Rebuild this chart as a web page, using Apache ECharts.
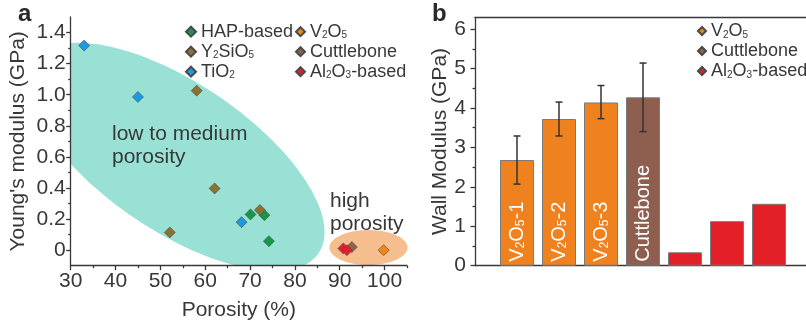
<!DOCTYPE html>
<html>
<head>
<meta charset="utf-8">
<script src="https://cdn.jsdelivr.net/npm/echarts@6.0.0/dist/echarts.min.js"></script>
<style>
  html, body { margin: 0; padding: 0; background: #fff; }
  #chart { width: 806px; height: 324px; }
</style>
</head>
<body>
<div id="chart"></div>
<script>
const FONT = '"Liberation Sans", Arial, Helvetica, sans-serif';
const INK = '#383838';

// panel a: porosity (%) vs Young's modulus (GPa)
const HAP_X = [70.1, 73.2, 74.2];
const HAP_Y = [0.23, 0.225, 0.058];
const YSIO_X = [58.1, 62.1, 52.1, 72.2];
const YSIO_Y = [1.026, 0.397, 0.114, 0.258];
const TIO2_X = [33.0, 45.0, 68.1];
const TIO2_Y = [1.316, 0.986, 0.18];
const V2O5_X = [99.8];
const V2O5_Y = [0];
const CUTTLE_X = [92.7];
const CUTTLE_Y = [0.02];
const AL2O3_X = [90.8, 91.6];
const AL2O3_Y = [0.011, 0];

const X_TICKS = [30, 40, 50, 60, 70, 80, 90, 100];
const X_MINOR = [35, 45, 55, 65, 75, 85, 95, 105];
const Y_TICKS = [0, 0.2, 0.4, 0.6, 0.8, 1.0, 1.2, 1.4];
const Y_MINOR = [0.1, 0.3, 0.5, 0.7, 0.9, 1.1, 1.3];

// panel b: wall modulus per sample
const BAR_POS = [1, 2, 3, 4, 5, 6, 7];
const BAR_GROUP = ['V2O5', 'V2O5', 'V2O5', 'Cuttlebone', 'Al2O3-based', 'Al2O3-based', 'Al2O3-based'];
const BAR_TEXT = ['{n|V}{s|2}{n|O}{s|5}{n|-1}', '{n|V}{s|2}{n|O}{s|5}{n|-2}', '{n|V}{s|2}{n|O}{s|5}{n|-3}', 'Cuttlebone', '', '', ''];
const WALL = [2.68, 3.72, 4.14, 4.27, 0.34, 1.13, 1.57];
const ERR_LO = [2.07, 3.29, 3.73, 3.40];
const ERR_HI = [3.29, 4.15, 4.57, 5.14];
const B_TICKS = [0, 1, 2, 3, 4, 5, 6];
const B_MINOR = [0.5, 1.5, 2.5, 3.5, 4.5, 5.5];

// shaded porosity regions (center in data units, radii in px)
const ELLIPSES = [
  { center: [53.5, 0.60], rx: 172, ry: 74, angle: 34, color: '#98e1d4' },
  { center: [96.4, 0.017], rx: 39, ry: 17.5, angle: 0, color: '#f6bd8f' },
];

const COLORS = {
  'HAP-based': '#14994a', 'Y2SiO5': '#8a7233', 'TiO2': '#1a9be0',
  'V2O5': '#f08618', 'Cuttlebone': '#8f6250', 'Al2O3-based': '#e3202a',
};
const BAR_COLORS = { 'V2O5': '#ef821e', 'Cuttlebone': '#8e5e4e', 'Al2O3-based': '#e21e26' };
const RICH_NAME = {
  'Y2SiO5': 'Y{s|2}SiO{s|5}', 'TiO2': 'TiO{s|2}',
  'V2O5': 'V{s|2}O{s|5}', 'Al2O3-based': 'Al{s|2}O{s|3}-based',
};

const zip = (xs, ys) => xs.map((x, i) => [x, ys[i]]);
const SCATTER = [
  ['HAP-based', zip(HAP_X, HAP_Y)],
  ['Y2SiO5', zip(YSIO_X, YSIO_Y)],
  ['TiO2', zip(TIO2_X, TIO2_Y)],
  ['V2O5', zip(V2O5_X, V2O5_Y)],
  ['Cuttlebone', zip(CUTTLE_X, CUTTLE_Y)],
  ['Al2O3-based', zip(AL2O3_X, AL2O3_Y)],
];

const lineStyle = { color: INK, width: 1.3 };
const labelStyle = { color: INK, fontSize: 21, fontFamily: FONT };
const nameStyle = { color: INK, fontSize: 21, fontFamily: FONT };

function axis(grid, min, max, ticks, extra) {
  return Object.assign({
    type: 'value', gridIndex: grid, min, max,
    axisLine: { show: true, onZero: false, lineStyle },
    axisTick: { show: true, customValues: ticks, length: 4.5, lineStyle },
    axisLabel: { show: true, customValues: ticks, ...labelStyle },
    splitLine: { show: false },
  }, extra);
}
function minorAxis(grid, min, max, ticks, position) {
  return {
    type: 'value', gridIndex: grid, min, max, position,
    axisLine: { show: false, onZero: false },
    axisTick: { show: true, customValues: ticks, length: 2.5, lineStyle },
    axisLabel: { show: false },
    splitLine: { show: false },
  };
}

const legendText = {
  color: INK, fontSize: 18, lineHeight: 18, fontFamily: FONT,
  rich: { s: { fontSize: 10, lineHeight: 6, verticalAlign: 'bottom', color: INK, fontFamily: FONT } },
};
const legendBase = {
  orient: 'vertical', icon: 'diamond', itemGap: 2, padding: 0, selectedMode: false,
  textStyle: legendText, formatter: n => RICH_NAME[n] || n,
};

const chart = echarts.init(document.getElementById('chart'));
chart.setOption({
  animation: false,
  textStyle: { fontFamily: FONT },
  grid: [
    { left: 70.7, top: 17, right: 399, bottom: 58.3, outerBoundsMode: 'none' },
    { left: 475, top: 17.3, right: -5, bottom: 58.3, outerBoundsMode: 'none' },
  ],
  xAxis: [
    axis(0, 30, 105, X_TICKS, {
      position: 'bottom', axisLabel: { customValues: X_TICKS, margin: 5, ...labelStyle },
      name: 'Porosity (%)', nameLocation: 'middle', nameGap: 34, nameTextStyle: nameStyle,
    }),
    minorAxis(0, 30, 105, X_MINOR, 'bottom'),
    {
      type: 'value', gridIndex: 1, min: 0, max: 8, position: 'bottom',
      axisLine: { show: true, onZero: false, lineStyle },
      axisTick: { show: false }, axisLabel: { show: false }, splitLine: { show: false },
    },
    {
      type: 'value', gridIndex: 1, min: 0, max: 8, position: 'top',
      axisLine: { show: true, onZero: false, lineStyle },
      axisTick: { show: false }, axisLabel: { show: false }, splitLine: { show: false },
    },
  ],
  yAxis: [
    axis(0, -0.1, 1.5, Y_TICKS, {
      position: 'left',
      axisLabel: {
        customValues: Y_TICKS, margin: 5, ...labelStyle,
        formatter: v => (v === 0 ? '0' : v.toFixed(1)),
      },
      name: "Young's modulus (GPa)", nameLocation: 'middle', nameGap: 42, nameTextStyle: nameStyle,
    }),
    minorAxis(0, -0.1, 1.5, Y_MINOR, 'left'),
    axis(1, 0, 6.3, B_TICKS, {
      position: 'left',
      axisLabel: { customValues: B_TICKS, margin: 9, ...labelStyle },
      name: 'Wall Modulus (GPa)', nameLocation: 'middle', nameGap: 21.5, nameTextStyle: nameStyle,
    }),
    minorAxis(1, 0, 6.3, B_MINOR, 'left'),
  ],
  legend: [
    { ...legendBase, data: ['HAP-based', 'Y2SiO5', 'TiO2'], left: 185, top: 22.7, itemWidth: 10, itemHeight: 10 },
    { ...legendBase, data: ['V2O5', 'Cuttlebone', 'Al2O3-based'], left: 295, top: 22.7, itemWidth: 9, itemHeight: 9 },
    { ...legendBase, data: ['V2O5', 'Cuttlebone', 'Al2O3-based'], left: 697, top: 22, itemWidth: 8, itemHeight: 8 },
  ],
  graphic: [
    { type: 'text', z: 100, left: 18, top: 2, style: { text: 'a', font: `bold 24px ${FONT}`, fill: '#2a2a2a' } },
    { type: 'text', z: 100, left: 432, top: 2, style: { text: 'b', font: `bold 24px ${FONT}`, fill: '#2a2a2a' } },
    { type: 'text', z: 100, left: 112, top: 123, style: { text: 'low to medium\nporosity', fontSize: 21, lineHeight: 23, fontFamily: FONT, fill: INK } },
    { type: 'text', z: 100, left: 330, top: 189.5, style: { text: 'high\nporosity', fontSize: 21, lineHeight: 23, fontFamily: FONT, fill: INK } },
  ],
  series: [
    {
      type: 'custom', name: 'regions', xAxisIndex: 0, yAxisIndex: 0, clip: true, silent: true, z: 0,
      data: ELLIPSES.map(e => e.center),
      renderItem: (params, api) => {
        const e = ELLIPSES[params.dataIndex];
        const c = api.coord([api.value(0), api.value(1)]);
        const th = e.angle * Math.PI / 180;
        const pts = [];
        for (let k = 0; k < 160; k++) {
          const t = k / 160 * 2 * Math.PI;
          pts.push([
            c[0] + e.rx * Math.cos(t) * Math.cos(th) - e.ry * Math.sin(t) * Math.sin(th),
            c[1] + e.rx * Math.cos(t) * Math.sin(th) + e.ry * Math.sin(t) * Math.cos(th),
          ]);
        }
        return { type: 'polygon', shape: { points: pts }, style: { fill: e.color } };
      },
    },
    ...SCATTER.map(([name, data]) => ({
      type: 'scatter', name, xAxisIndex: 0, yAxisIndex: 0, data, z: 3,
      symbol: 'diamond', symbolSize: 11,
      itemStyle: { color: COLORS[name], borderColor: '#4a4a4a', borderWidth: 0.6, opacity: 1 },
    })),
    ...['V2O5', 'Cuttlebone', 'Al2O3-based'].map(name => ({
      type: 'bar', name, xAxisIndex: 2, yAxisIndex: 2, stack: 'wall', barWidth: 34,
      data: BAR_POS.map((x, i) => [x, WALL[i], i]).filter((d, i) => BAR_GROUP[i] === name),
      itemStyle: { color: BAR_COLORS[name], borderColor: '#7a7a7a', borderWidth: 1 },
      label: {
        show: true, position: 'insideBottom', rotate: 90, align: 'left', verticalAlign: 'middle',
        distance: 4, color: '#fff', fontSize: 20, lineHeight: 20, fontFamily: FONT,
        formatter: p => BAR_TEXT[p.data[2]],
        rich: {
          n: { fontSize: 20, lineHeight: 20, color: '#fff', fontFamily: FONT },
          s: { fontSize: 12, lineHeight: 6, verticalAlign: 'bottom', color: '#fff', fontFamily: FONT },
        },
      },
    })),
    {
      type: 'custom', name: 'err', xAxisIndex: 2, yAxisIndex: 2, z: 5, silent: true,
      data: ERR_LO.map((lo, i) => [BAR_POS[i], lo, ERR_HI[i]]),
      encode: { x: 0, y: [1, 2] },
      renderItem: (params, api) => {
        const lo = api.coord([api.value(0), api.value(1)]);
        const hi = api.coord([api.value(0), api.value(2)]);
        const w = 3.5;
        const style = { stroke: '#333', lineWidth: 1.5 };
        return {
          type: 'group', children: [
            { type: 'line', shape: { x1: lo[0], y1: lo[1], x2: hi[0], y2: hi[1] }, style },
            { type: 'line', shape: { x1: lo[0] - w, y1: lo[1], x2: lo[0] + w, y2: lo[1] }, style },
            { type: 'line', shape: { x1: hi[0] - w, y1: hi[1], x2: hi[0] + w, y2: hi[1] }, style },
          ],
        };
      },
    },
  ],
});
</script>
</body>
</html>
